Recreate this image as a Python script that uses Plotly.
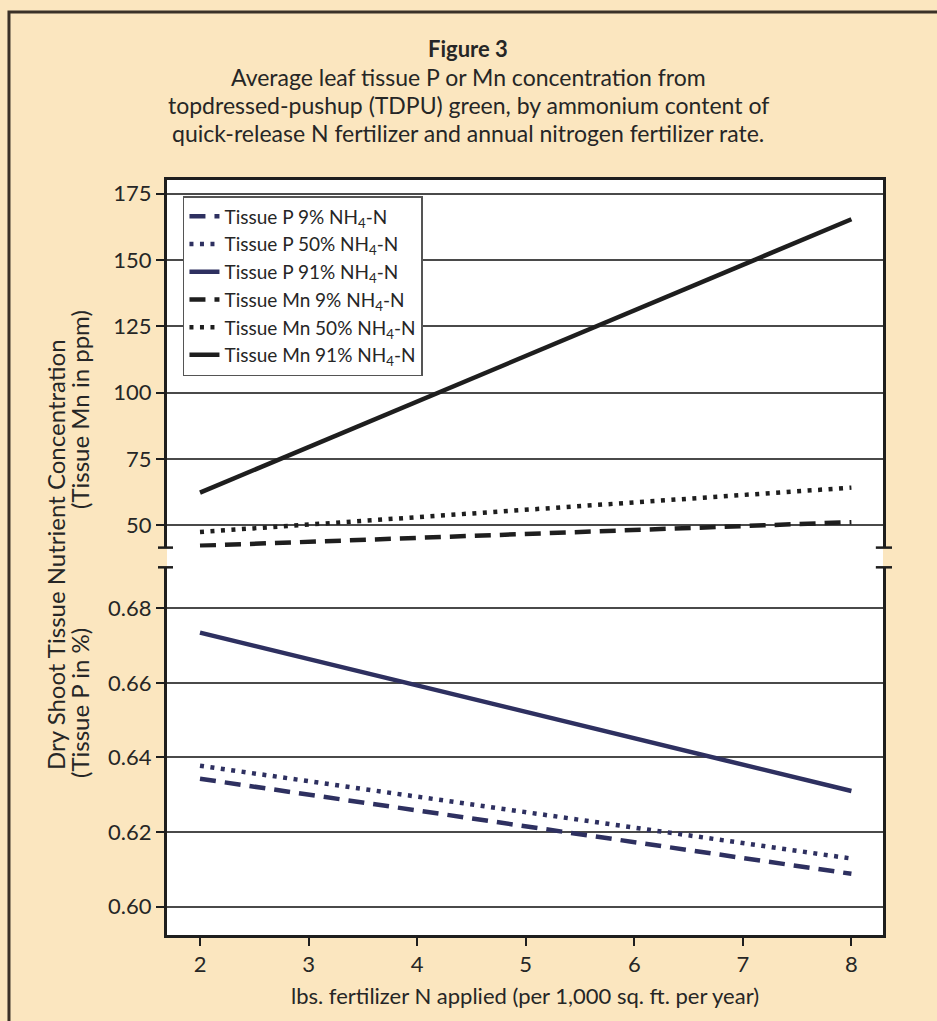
import plotly.graph_objects as go

# ---- data ----
x_rate = [2, 8]
p_9 = [0.6343, 0.6088]
p_50 = [0.6378, 0.6129]
p_91 = [0.6735, 0.6310]
mn_9 = [42.3, 51.2]
mn_50 = [47.5, 64.2]
mn_91 = [62.3, 165.3]

x_ticks = [2, 3, 4, 5, 6, 7, 8]
mn_ticks = [50, 75, 100, 125, 150, 175]
p_ticks = [0.60, 0.62, 0.64, 0.66, 0.68]

NH4 = "NH<sub>4</sub>-N"
names = [
    f"Tissue P 9% {NH4}", f"Tissue P 50% {NH4}", f"Tissue P 91% {NH4}",
    f"Tissue Mn 9% {NH4}", f"Tissue Mn 50% {NH4}", f"Tissue Mn 91% {NH4}",
]

FONT = "Lato, 'Open Sans', sans-serif"
TXT = "#262626"
BG = "#fbe6bf"
AX = "#1e1e1e"
GRID = "#4a4a4a"
P_COL = "#2e3060"
MN_COL = "#1e1e1e"
DASH = "16px,9px"
DOT = "4px,6.5px"

fig = go.Figure()
series = [
    (p_9, P_COL, DASH, "x", "y"),
    (p_50, P_COL, DOT, "x", "y"),
    (p_91, P_COL, "solid", "x", "y"),
    (mn_9, MN_COL, DASH, "x2", "y2"),
    (mn_50, MN_COL, DOT, "x2", "y2"),
    (mn_91, MN_COL, "solid", "x2", "y2"),
]
for (vals, col, dash, xa, ya), nm in zip(series, names):
    fig.add_trace(go.Scatter(
        x=x_rate, y=vals, mode="lines", name=nm,
        line=dict(color=col, width=4.5, dash=dash),
        xaxis=xa, yaxis=ya,
    ))

xr = [1.696, 8.291]
TICKF = dict(size=22, color=TXT, family=FONT)
fig.update_layout(
    width=937, height=1021,
    margin=dict(l=167, r=54, t=180, b=86),
    paper_bgcolor=BG, plot_bgcolor="white",
    font=dict(family=FONT, color=TXT, size=19),
    showlegend=True,
    legend=dict(
        x=0.0223, y=0.9788, xanchor="left", yanchor="top",
        bgcolor="white", bordercolor="#555555", borderwidth=1.5,
        font=dict(family=FONT, size=19, color=TXT),
        tracegroupgap=0,
    ),
    xaxis=dict(
        domain=[0, 1], anchor="y", range=xr, tickvals=x_ticks,
        showline=True, linecolor=AX, linewidth=3,
        ticks="outside", ticklen=8, tickwidth=2, tickcolor=AX,
        showgrid=False, zeroline=False, tickfont=TICKF,
    ),
    xaxis2=dict(
        domain=[0, 1], anchor="y2", side="top", range=xr,
        showline=True, linecolor=AX, linewidth=3,
        showticklabels=False, ticks="", showgrid=False, zeroline=False,
    ),
    yaxis=dict(
        domain=[0, 0.487], anchor="x", range=[0.5924, 0.691],
        tickvals=p_ticks, tickformat=".2f",
        showline=True, mirror=True, linecolor=AX, linewidth=3,
        ticks="outside", ticklen=8, tickwidth=2, tickcolor=AX,
        showgrid=True, gridcolor=GRID, gridwidth=1.5, zeroline=False,
        tickfont=TICKF,
    ),
    yaxis2=dict(
        domain=[0.5131, 1], anchor="x2", range=[41.6, 180.1],
        tickvals=mn_ticks,
        showline=True, mirror=True, linecolor=AX, linewidth=3,
        ticks="outside", ticklen=8, tickwidth=2, tickcolor=AX,
        showgrid=True, gridcolor=GRID, gridwidth=1.5, zeroline=False,
        tickfont=TICKF,
    ),
)

shapes = [
    # white panel behind both sub-plots (including the break gap)
    dict(type="rect", xref="paper", yref="paper", x0=0, x1=1, y0=0, y1=1,
         fillcolor="white", line=dict(width=0), layer="below"),
    # outer frame of the page (only its top and left edges fall on the canvas)
    dict(type="rect", xref="paper", yref="paper", x0=-0.2207, x1=1.2, y0=-0.25, y1=1.2225,
         fillcolor="rgba(0,0,0,0)", line=dict(color="#3a3128", width=3), layer="above"),
]
# axis-break marks
for yref, yv in [("y2 domain", 0), ("y domain", 1)]:
    for x0, x1 in [(-0.0126, 0.0084), (0.990, 1.0126)]:
        shapes.append(dict(type="line", xref="x domain", yref=yref,
                           x0=x0, x1=x1, y0=yv, y1=yv,
                           line=dict(color=AX, width=2.5)))
fig.update_layout(shapes=shapes)

ann = [
    dict(text="<b>Figure 3</b>", x=0.4204, y=1.1748, size=22),
    dict(text="Average leaf tissue P or Mn concentration from", x=0.4204, y=1.1364, size=23),
    dict(text="topdressed-pushup (TDPU) green, by ammonium content of", x=0.4204, y=1.0993, size=23),
    dict(text="quick-release N fertilizer and annual nitrogen fertilizer rate.", x=0.4204, y=1.0623, size=23),
    dict(text="lbs. fertilizer N applied (per 1,000 sq. ft. per year)", x=0.5, y=-0.0795, size=22),
]
for a in ann:
    fig.add_annotation(text=a["text"], x=a["x"], y=a["y"], xref="paper", yref="paper",
                       xanchor="center", yanchor="middle", showarrow=False,
                       font=dict(family=FONT, size=a["size"], color=TXT))

yt = [
    ("Dry Shoot Tissue Nutrient Concentration", -0.1564, 0.5033),
    ("(Tissue Mn in ppm)", -0.1215, 0.6954),
    ("(Tissue P in %)", -0.1215, 0.3073),
]
for t, xx, yy in yt:
    fig.add_annotation(text=t, x=xx, y=yy, xref="paper", yref="paper",
                       xanchor="center", yanchor="middle", showarrow=False,
                       textangle=-90, font=dict(family=FONT, size=24, color=TXT))

fig.write_html(
    "out.html",
    config={"displayModeBar": False},
    post_script="document.body.style.margin='0px';document.body.style.background='#fbe6bf';",
)
